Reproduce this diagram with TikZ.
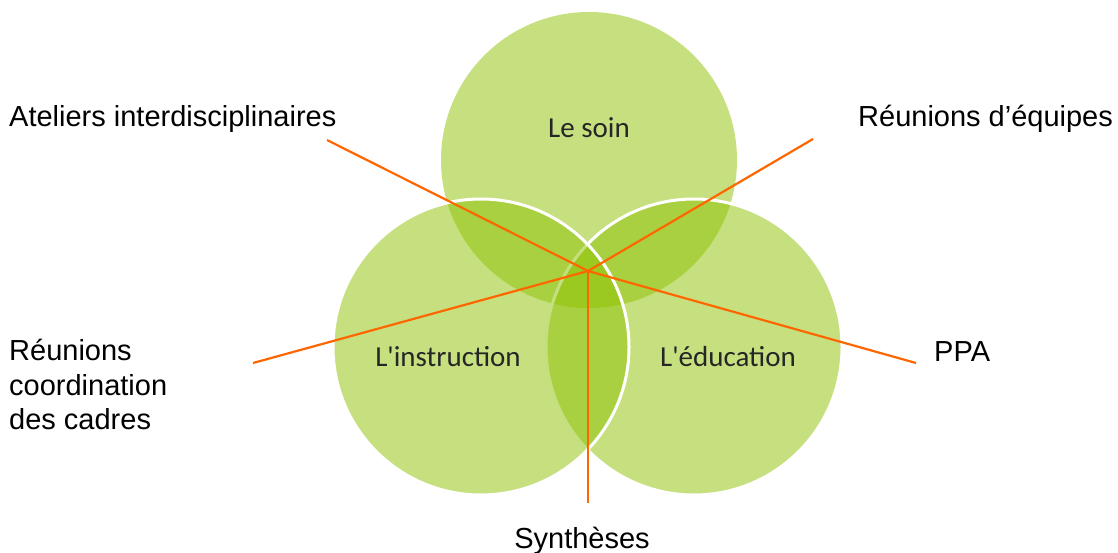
\documentclass[tikz,border=0pt]{standalone}
\usepackage{fontspec}
\setmainfont{Liberation Sans}
\newfontfamily\calibri{Carlito}
\definecolor{leafgreen}{RGB}{141,193,1}
\definecolor{linkorange}{RGB}{255,102,0}
\tikzset{
  circ/.style = {fill = leafgreen, fill opacity = 0.5, draw = white, draw opacity = 1, line width = 3pt},
  inlabel/.style = {font = \calibri\fontsize{29}{34}\selectfont, text = black!85, inner sep = 0pt},
  outlabel/.style = {font = \fontsize{29}{34.5}\selectfont, inner sep = 0pt, align = left},
  link/.style = {draw = linkorange, line width = 2.2pt}
}

\begin{document}
\begin{tikzpicture} [x = 1pt, y = -1pt] 
\useasboundingbox (0, 0) rectangle (1118, 553);
% the three circles
\fill[circ, draw = none] (589, 160) circle (148);
\draw[circ] (694, 347) circle (148);
\draw[circ] (481, 347) circle (148);
\node[inlabel, anchor = base] (soin) at (589, 138){Le soin};
\node[inlabel, anchor = base] (instr) at (448, 366){L'instruction};
\node[inlabel, anchor = base] (educ) at (728, 366){L'éducation};
% outer labels
\node[outlabel, anchor = base west] (ateliers) at (9, 127){Ateliers interdisciplinaires};
\node[outlabel, anchor = base west] (equipes) at (858, 127){Réunions d’équipes};
\node[outlabel, anchor = north west] (cadres) at (9, 339){Réunions\\coordination\\des cadres};
\node[outlabel, anchor = base west] (ppa) at (934, 361){PPA};
\node[outlabel, anchor = base] (syntheses) at (582, 548){Synthèses};
% links from the middle
\coordinate (hub) at (588, 271);
\coordinate (ateliersend) at (327, 140);
\coordinate (equipesend) at (813, 139);
\coordinate (cadresend) at (253, 363);
\coordinate (ppaend) at (916, 363);
\coordinate (synthesesend) at (588, 503);
\draw[link] (hub) -- (ateliersend);
\draw[link] (hub) -- (equipesend);
\draw[link] (hub) -- (cadresend);
\draw[link] (hub) -- (ppaend);
\draw[link] (hub) -- (synthesesend);
\end{tikzpicture}
\end{document}
